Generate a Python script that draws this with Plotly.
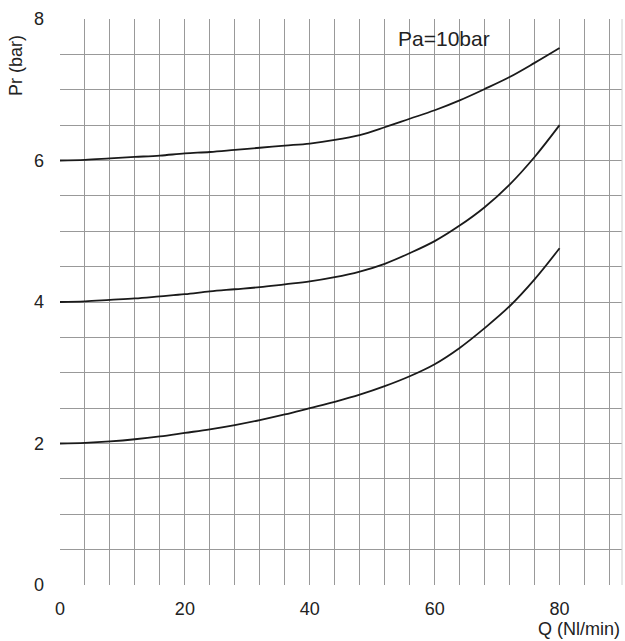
import plotly.graph_objects as go

# Flow rate Q (Nl/min)
q = [0, 4, 8, 12, 16, 20, 24, 28, 32, 36, 40, 44, 48, 52, 56, 60, 64, 68, 72, 76, 80]

# Regulated pressure Pr (bar) for three set points, Pa = 10 bar
pr_6 = [6.00, 6.01, 6.03, 6.05, 6.07, 6.10, 6.12, 6.15, 6.18, 6.21, 6.24, 6.29, 6.36, 6.47, 6.59, 6.71, 6.85, 7.01, 7.18, 7.38, 7.59]
pr_4 = [4.00, 4.01, 4.03, 4.05, 4.08, 4.11, 4.15, 4.18, 4.21, 4.25, 4.29, 4.35, 4.43, 4.54, 4.69, 4.86, 5.08, 5.34, 5.66, 6.05, 6.50]
pr_2 = [2.00, 2.01, 2.03, 2.06, 2.10, 2.15, 2.20, 2.26, 2.33, 2.41, 2.50, 2.59, 2.69, 2.81, 2.95, 3.12, 3.35, 3.63, 3.94, 4.32, 4.76]

x_ticks = [0, 20, 40, 60, 80]
y_ticks = [0, 2, 4, 6, 8]

FONT = "Liberation Sans, Arial, sans-serif"
TXT = "#222222"

fig = go.Figure()
for ys in (pr_6, pr_4, pr_2):
    fig.add_trace(go.Scatter(
        x=q, y=ys, mode="lines",
        line=dict(color="#1a1a1a", width=1.8, shape="spline", smoothing=1.0),
        showlegend=False, hoverinfo="skip",
    ))

L, R, T, B = 60, 3, 19, 56
W, H = 625, 641
plot_w = W - L - R
plot_h = H - T - B

fig.update_layout(
    width=W, height=H,
    margin=dict(l=L, r=R, t=T, b=B),
    paper_bgcolor="white", plot_bgcolor="white",
    font=dict(family=FONT, size=18, color=TXT),
    xaxis=dict(
        range=[0, 90], showgrid=True, gridcolor="#999999", gridwidth=1,
        zeroline=False, showline=False,
        tickvals=[v for v in range(0, 89, 4)],
        ticktext=[str(v) if v in x_ticks else "" for v in range(0, 89, 4)],
        ticks="", ticklabelstandoff=11,
        tickfont=dict(size=18, family=FONT, color=TXT),
        fixedrange=True,
    ),
    yaxis=dict(
        range=[0, 8], showgrid=True, gridcolor="#999999", gridwidth=1,
        zeroline=False, showline=False,
        tickvals=[v / 2 for v in range(0, 17)],
        ticktext=[str(int(v / 2)) if (v / 2) in y_ticks else "" for v in range(0, 17)],
        ticks="", ticklabelstandoff=15,
        tickfont=dict(size=18, family=FONT, color=TXT),
        fixedrange=True,
    ),
    shapes=[dict(type="line", xref="x domain", yref="y domain", x0=1, x1=1, y0=0, y1=1,
                 line=dict(color="#d0d0d0", width=1))],
    annotations=[
        dict(text="Pa=10bar", x=61.5, y=7.73, xref="x", yref="y", showarrow=False,
             xanchor="center", yanchor="middle",
             font=dict(size=21, family=FONT, color=TXT)),
        dict(text="Pr (bar)", x=(16 - L) / plot_w, y=(H - B - 57) / plot_h,
             xref="paper", yref="paper", showarrow=False,
             xanchor="center", yanchor="middle", yshift=-9,
             textangle=-90, font=dict(size=18, family=FONT, color=TXT)),
        dict(text="Q (Nl/min)", x=(622 - L) / plot_w, y=(H - B - 629) / plot_h,
             xref="paper", yref="paper", showarrow=False,
             xanchor="right", yanchor="middle",
             font=dict(size=18, family=FONT, color=TXT)),
    ],
)

fig.write_html("out.html")
